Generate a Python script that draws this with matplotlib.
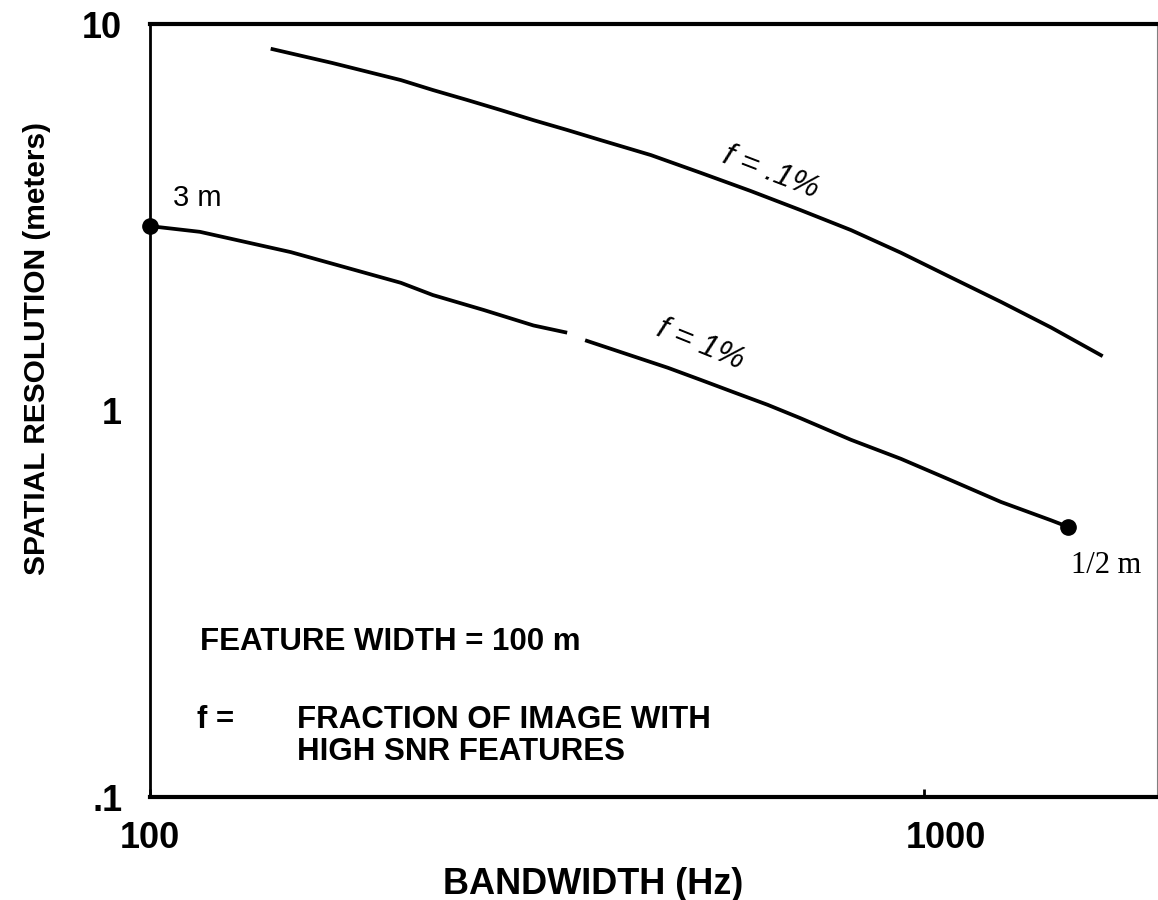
import matplotlib.pyplot as plt
from matplotlib.transforms import ScaledTranslation

plt.rcParams['font.family'] = ['Liberation Sans', 'DejaVu Sans']

# bandwidth (Hz) vs spatial resolution (m), feature width 100 m
# f = 1% curve (drawn in two pieces, the original trace has a break)
bw_1pct_a = [100, 116, 152, 211, 232, 270, 313, 346]
res_1pct_a = [3.0, 2.9, 2.57, 2.14, 1.99, 1.82, 1.66, 1.59]
bw_1pct_b = [365, 422, 467, 515, 568, 628, 693, 805, 934, 1084, 1258, 1460, 1536]
res_1pct_b = [1.52, 1.38, 1.29, 1.2, 1.115, 1.035, 0.955, 0.84, 0.75,
              0.66, 0.58, 0.52, 0.5]

# f = .1% curve
bw_01pct = [144, 172, 211, 232, 257, 284, 313, 346, 382, 444, 515, 597, 693,
            805, 934, 1084, 1258, 1460, 1694]
res_01pct = [8.61, 7.93, 7.16, 6.75, 6.36, 5.99, 5.64, 5.32, 5.01, 4.58, 4.12,
             3.70, 3.30, 2.93, 2.56, 2.21, 1.91, 1.64, 1.39]

end_bw = [100, 1536]
end_res = [3.0, 0.5]
end_labels = ["3 m", "1/2 m"]

x_ticks = [100, 1000]
x_tick_labels = ["100", "1000"]
y_ticks = [0.1, 1, 10]
y_tick_labels = [".1", "1", "10"]

fig = plt.figure(figsize=(11.58, 9), dpi=100)
ax = fig.add_axes([0.1295, 0.1144, 0.8695, 0.8589])
ax.set_xscale("log")
ax.set_yscale("log")
ax.set_xlim(100, 2000)
ax.set_ylim(0.1, 10)

ax.plot(bw_1pct_a, res_1pct_a, color="black", lw=2.7, solid_capstyle="butt")
ax.plot(bw_1pct_b, res_1pct_b, color="black", lw=2.7, solid_capstyle="butt")
ax.plot(bw_01pct, res_01pct, color="black", lw=2.7)
ax.plot(end_bw, end_res, "o", color="black", ms=11, clip_on=False)

ax.text(107, 3.55, end_labels[0], fontsize=21, va="center", ha="left")
ax.text(1549, 0.398, end_labels[1], fontsize=22, va="center", ha="left",
        family=["Liberation Serif", "DejaVu Serif"])

ax.text(634, 4.12, "f = .1%", fontsize=23, style="italic", rotation=-21,
        ha="center", va="center", rotation_mode="anchor")
ax.text(515, 1.48, "f = 1%", fontsize=23, style="italic", rotation=-22,
        ha="center", va="center", rotation_mode="anchor")

note = dict(transform=ax.transAxes, fontsize=22.5, fontweight="bold",
            va="center", ha="left")
ax.text(0.0497, 0.2005, "FEATURE WIDTH = 100 m", **note)
ax.text(0.0467, 0.0996, "f =", **note)
ax.text(0.146, 0.0996, "FRACTION OF IMAGE WITH", **note)
ax.text(0.146, 0.058, "HIGH SNR FEATURES", **note)

ax.set_xticks(x_ticks)
ax.set_xticklabels(x_tick_labels)
ax.set_yticks(y_ticks)
ax.set_yticklabels(y_tick_labels)
ax.minorticks_off()
ax.tick_params(axis="x", direction="in", length=6, width=2, labelsize=26, pad=17)
ax.tick_params(axis="y", length=0, labelsize=26, pad=20)
for lbl in ax.get_xticklabels() + ax.get_yticklabels():
    lbl.set_fontweight("bold")
# the 1000 label sits a little right of its tick
lbl_1000 = ax.get_xticklabels()[1]
lbl_1000.set_transform(lbl_1000.get_transform()
                       + ScaledTranslation(0.22, 0, fig.dpi_scale_trans))

for side in ["top", "bottom"]:
    ax.spines[side].set_linewidth(3)
ax.spines["left"].set_linewidth(2)
ax.spines["right"].set_linewidth(0.8)
ax.spines["right"].set_color("0.5")

fig.text(0.512, 0.017, "BANDWIDTH (Hz)", fontsize=26, fontweight="bold",
         ha="center", va="center")
fig.text(0.032, 0.613, "SPATIAL RESOLUTION (meters)", fontsize=21.5,
         fontweight="bold", rotation=90, ha="center", va="center")

fig.savefig("out.png", dpi=100)
